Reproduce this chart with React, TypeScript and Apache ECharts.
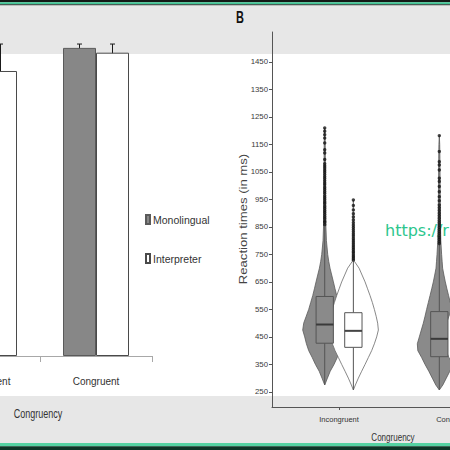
import React, { useEffect, useRef } from 'react';
import * as echarts from 'echarts';

// ---------- Panel A (bar chart, partly cropped) ----------
const barCategories = ['Incongruent', 'Congruent'];
const monolingualMeans = [618, 640];
const interpreterMeans = [592, 630];
const monolingualLow = [586, 617];
const monolingualHigh = [650, 648];
const interpreterLow = [540, 600];
const interpreterHigh = [648, 648];

// ---------- Panel B (violin + box plots) ----------
const congruencyCategories = ['Incongruent', 'Congruent'];
const rtTickValues = [250, 350, 450, 550, 650, 750, 850, 950, 1050, 1150, 1250, 1350, 1450];
const densityRT = [275, 300, 325, 350, 375, 400, 425, 450, 475, 500, 525, 550, 575, 600, 625, 650, 675, 700, 725, 750, 800, 850, 900, 950, 1000, 1050, 1100, 1150, 1200];

const monoIncongruentRange = [275, 1210];
const monoIncongruentDensity = [0.5, 2.7, 5.5, 9.3, 12.5, 16, 18.3, 20, 22, 21, 18.5, 16, 14, 12, 10.3, 8.7, 7, 5.3, 4, 3, 1.7, 1.2, 1, 0.9, 0.8, 0.7, 0.6, 0.5, 0.3];
const interpIncongruentRange = [257, 948];
const interpIncongruentDensity = [2, 5, 8.3, 11.7, 15, 18.3, 21, 23.3, 25, 24.3, 22.8, 21, 19, 16.7, 14.2, 11.7, 8.7, 5.7, 1, 0.7, 0.6, 0.5, 0.4, 0, 0, 0, 0, 0, 0];
const monoCongruentRange = [257, 1182];
const monoCongruentDensity = [3.5, 7, 10.5, 14.3, 17.7, 21.5, 22, 20, 18, 16, 14.3, 12.7, 11, 9.3, 7.6, 6, 4.6, 3.3, 2.8, 2.3, 1.5, 1.2, 1, 0.9, 0.8, 0.7, 0.6, 0.4, 0];
const interpCongruentRange = [252, 905];
const interpCongruentDensity = [3, 7, 11, 15, 19, 22, 24, 24.5, 23.5, 21.5, 19, 16.5, 14, 11.5, 9, 6.5, 4, 1.5, 0.8, 0.6, 0.5, 0.4, 0.3, 0, 0, 0, 0, 0, 0];

// [lower whisker, Q1, median, Q3, upper whisker]
const monoIncongruentBox = [275, 427, 495, 597, 850];
const interpIncongruentBox = [257, 412, 472, 538, 725];
const monoCongruentBox = [257, 378, 443, 542, 785];
const interpCongruentBox = [252, 395, 445, 510, 680];

const monoIncongruentOutliers = [858, 866, 871, 880, 887, 895, 903, 910, 918, 925, 934, 941, 949, 956, 963, 972, 979, 987, 994, 1003, 1010, 1018, 1026, 1033, 1041, 1049, 1056, 1064, 1072, 1080, 1095, 1119, 1131, 1155, 1173, 1185, 1198, 1210];
const interpIncongruentOutliers = [730, 736, 742, 748, 755, 761, 768, 774, 781, 788, 795, 802, 809, 817, 824, 832, 840, 848, 856, 865, 875, 886, 898, 912, 928, 948];
const monoCongruentOutliers = [790, 797, 804, 811, 818, 826, 833, 841, 849, 857, 865, 873, 882, 891, 900, 910, 920, 930, 945, 960, 978, 997, 1015, 1027, 1057, 1075, 1087, 1124, 1182];
const interpCongruentOutliers = [690, 702, 718, 745, 770, 805, 850];

// ---------- styling / layout constants ----------
const SANS = "'Liberation Sans', Arial, sans-serif";
const XOFF = 72; // the figure is a crop: the chart canvas starts 72px left of the page
const CANVAS_W = 580;
const DODGE = 0.125;
const BOX_WIDTH = 0.151;
const DENSITY_TO_X = 1 / 114.6;
const GRAY = '#8a8a8a';

function violinSeries(xPos: number, range: number[], density: number[], fill: string, stroke: string) {
  return {
    type: 'custom',
    xAxisIndex: 1,
    yAxisIndex: 1,
    silent: true,
    data: [[xPos, range[0], range[1]]],
    renderItem: (_p: any, api: any) => {
      const x = api.value(0);
      const lo = api.value(1);
      const hi = api.value(2);
      const unit = api.size([1, 0])[0];
      const prof: number[][] = [[lo, 0]];
      densityRT.forEach((rt, i) => {
        if (rt > lo && rt < hi) prof.push([rt, density[i]]);
      });
      prof.push([hi, 0]);
      const left = prof.map(([rt, w]) => {
        const c = api.coord([x, rt]);
        return [c[0] - w * DENSITY_TO_X * unit, c[1]];
      });
      const right = prof
        .slice()
        .reverse()
        .map(([rt, w]) => {
          const c = api.coord([x, rt]);
          return [c[0] + w * DENSITY_TO_X * unit, c[1]];
        });
      return {
        type: 'polygon',
        shape: { points: left.concat(right) },
        style: { fill, stroke, lineWidth: 0.8 },
      };
    },
  };
}

function boxSeries(xPos: number, stats: number[], fill: string, stroke: string, medianColor: string) {
  return {
    type: 'custom',
    xAxisIndex: 1,
    yAxisIndex: 1,
    silent: true,
    data: [[xPos, ...stats]],
    renderItem: (_p: any, api: any) => {
      const x = api.value(0);
      const unit = api.size([1, 0])[0];
      const half = (BOX_WIDTH / 2) * unit;
      const pMin = api.coord([x, api.value(1)]);
      const pQ1 = api.coord([x, api.value(2)]);
      const pMed = api.coord([x, api.value(3)]);
      const pQ3 = api.coord([x, api.value(4)]);
      const pMax = api.coord([x, api.value(5)]);
      const cx = pMed[0];
      return {
        type: 'group',
        children: [
          { type: 'line', shape: { x1: cx, y1: pMin[1], x2: cx, y2: pQ1[1] }, style: { stroke, lineWidth: 1 } },
          { type: 'line', shape: { x1: cx, y1: pQ3[1], x2: cx, y2: pMax[1] }, style: { stroke, lineWidth: 1 } },
          {
            type: 'rect',
            shape: { x: cx - half, y: pQ3[1], width: half * 2, height: pQ1[1] - pQ3[1] },
            style: { fill, stroke, lineWidth: 1 },
          },
          {
            type: 'line',
            shape: { x1: cx - half, y1: pMed[1], x2: cx + half, y2: pMed[1] },
            style: { stroke: medianColor, lineWidth: 2 },
          },
        ],
      };
    },
  };
}

function outlierSeries(xPos: number, values: number[]) {
  return {
    type: 'scatter',
    xAxisIndex: 1,
    yAxisIndex: 1,
    silent: true,
    symbol: 'circle',
    symbolSize: 3.4,
    itemStyle: { color: '#151515' },
    data: values.map((v) => [xPos, v]),
  };
}

function errorBarSeries(low: number[], high: number[], offsetPx: number) {
  return {
    type: 'custom',
    xAxisIndex: 0,
    yAxisIndex: 0,
    silent: true,
    data: low.map((l, i) => [i, l, high[i]]),
    renderItem: (_p: any, api: any) => {
      const a = api.coord([api.value(0), api.value(1)]);
      const b = api.coord([api.value(0), api.value(2)]);
      const x = a[0] + offsetPx;
      const cap = 2.5;
      const st = { stroke: '#1a1a1a', lineWidth: 1 };
      return {
        type: 'group',
        children: [
          { type: 'line', shape: { x1: x, y1: a[1], x2: x, y2: b[1] }, style: st },
          { type: 'line', shape: { x1: x - cap, y1: a[1], x2: x + cap, y2: a[1] }, style: st },
          { type: 'line', shape: { x1: x - cap, y1: b[1], x2: x + cap, y2: b[1] }, style: st },
        ],
      };
    },
  };
}

const BAR_W = 33;

function band(y: number, h: number, fill: string) {
  return { type: 'rect', z: -100, shape: { x: 0, y, width: CANVAS_W, height: h }, style: { fill } };
}

function buildOption() {
  return {
    animation: false,
    backgroundColor: '#ffffff',
    grid: [
      { left: 0, top: 19, width: 224, height: 337 },
      { left: 272 + XOFF, top: 32, width: 229.2, height: 375 },
    ],
    xAxis: [
      {
        type: 'category',
        gridIndex: 0,
        data: barCategories,
        axisLine: { lineStyle: { color: '#a8a8a8', width: 1.2 } },
        axisTick: { show: true, length: 6, lineStyle: { color: '#a8a8a8' } },
        axisLabel: { fontSize: 10, color: '#333', fontFamily: SANS, margin: 20 },
      },
      {
        type: 'value',
        gridIndex: 1,
        min: 0.415,
        max: 2.415,
        splitLine: { show: false },
        axisLine: { show: true, lineStyle: { color: '#555', width: 1 } },
        axisTick: { show: true, length: 3, customValues: [1, 2], lineStyle: { color: '#555' } },
        axisLabel: {
          customValues: [1, 2],
          formatter: (v: number) => congruencyCategories[Math.round(v) - 1],
          fontSize: 7.5,
          color: '#333',
          fontFamily: SANS,
          margin: 8,
        },
      },
    ],
    yAxis: [
      { type: 'value', gridIndex: 0, min: 0, max: 700, show: false },
      {
        type: 'value',
        gridIndex: 1,
        min: 195,
        max: 1559,
        splitLine: { show: false },
        axisLine: { show: true, lineStyle: { color: '#555', width: 1 } },
        axisTick: { show: true, length: 3, customValues: rtTickValues, lineStyle: { color: '#555' } },
        axisLabel: {
          customValues: rtTickValues,
          formatter: (v: number) => String(v),
          fontSize: 7.8,
          color: '#3a3a3a',
          fontFamily: SANS,
          margin: 4,
        },
      },
    ],
    legend: {
      data: ['Monolingual', 'Interpreter'],
      orient: 'vertical',
      left: 140 + XOFF,
      top: 209,
      itemWidth: 4,
      itemHeight: 9,
      itemGap: 28,
      icon: 'rect',
      selectedMode: false,
      textStyle: { fontSize: 10.5, color: '#333', fontFamily: SANS, padding: [0, 0, 0, -2] },
    },
    graphic: [
      band(0, 2.2, '#121815'),
      band(2.2, 2, '#3fc393'),
      band(4.2, 1.3, '#1d2b25'),
      band(5.5, 48.5, '#e7e7e7'),
      band(396, 47, '#e7e7e7'),
      band(443, 3.3, '#55d2a2'),
      band(446.3, 3.7, '#0d3526'),
      {
        type: 'text',
        x: 240 + XOFF,
        y: 17,
        scaleY: 1.5,
        style: { text: 'B', fontSize: 11, fontWeight: 'bold', fontFamily: SANS, fill: '#111', align: 'center', verticalAlign: 'middle' },
      },
      {
        type: 'text',
        x: 38 + XOFF,
        y: 413,
        scaleX: 0.75,
        style: { text: 'Congruency', fontSize: 12, fontFamily: SANS, fill: '#333', align: 'center', verticalAlign: 'middle' },
      },
      {
        type: 'text',
        x: 393 + XOFF,
        y: 437,
        scaleX: 0.73,
        style: { text: 'Congruency', fontSize: 11, fontFamily: SANS, fill: '#333', align: 'center', verticalAlign: 'middle' },
      },
      {
        type: 'text',
        x: 243 + XOFF,
        y: 219,
        rotation: Math.PI / 2,
        scaleX: 1.25,
        style: { text: 'Reaction times (in ms)', fontSize: 10.5, fontFamily: SANS, fill: '#444', align: 'center', verticalAlign: 'middle' },
      },
      {
        type: 'text',
        x: 385 + XOFF,
        y: 230,
        style: { text: 'https://r', fontSize: 16, fontFamily: "'DejaVu Sans', sans-serif", fill: '#2cc68d', align: 'left', verticalAlign: 'middle' },
      },
    ],
    series: [
      {
        name: 'Monolingual',
        type: 'bar',
        xAxisIndex: 0,
        yAxisIndex: 0,
        barWidth: BAR_W,
        barGap: '0%',
        data: monolingualMeans,
        itemStyle: { color: '#878787', borderColor: '#5a5a5a', borderWidth: 1 },
      },
      {
        name: 'Interpreter',
        type: 'bar',
        xAxisIndex: 0,
        yAxisIndex: 0,
        barWidth: BAR_W,
        barGap: '0%',
        data: interpreterMeans,
        itemStyle: { color: '#ffffff', borderColor: '#4a4a4a', borderWidth: 1 },
      },
      errorBarSeries(monolingualLow, monolingualHigh, -BAR_W / 2),
      errorBarSeries(interpreterLow, interpreterHigh, BAR_W / 2),
      violinSeries(1 - DODGE, monoIncongruentRange, monoIncongruentDensity, GRAY, '#5a5a5a'),
      violinSeries(1 + DODGE, interpIncongruentRange, interpIncongruentDensity, '#ffffff', '#6a6a6a'),
      violinSeries(2 - DODGE, monoCongruentRange, monoCongruentDensity, GRAY, '#5a5a5a'),
      violinSeries(2 + DODGE, interpCongruentRange, interpCongruentDensity, '#ffffff', '#6a6a6a'),
      boxSeries(1 - DODGE, monoIncongruentBox, GRAY, '#555', '#3a3a3a'),
      boxSeries(1 + DODGE, interpIncongruentBox, '#ffffff', '#555', '#444'),
      boxSeries(2 - DODGE, monoCongruentBox, GRAY, '#555', '#3a3a3a'),
      boxSeries(2 + DODGE, interpCongruentBox, '#ffffff', '#555', '#444'),
      outlierSeries(1 - DODGE, monoIncongruentOutliers),
      outlierSeries(1 + DODGE, interpIncongruentOutliers),
      outlierSeries(2 - DODGE, monoCongruentOutliers),
      outlierSeries(2 + DODGE, interpCongruentOutliers),
    ],
  };
}

export default function App() {
  const ref = useRef<HTMLDivElement>(null);
  useEffect(() => {
    document.body.style.margin = '0';
    const chart = echarts.init(ref.current as HTMLDivElement, null, { renderer: 'svg' });
    chart.setOption(buildOption() as any);
    return () => chart.dispose();
  }, []);
  return (
    <div style={{ width: 450, height: 450, overflow: 'hidden', position: 'relative' }}>
      <div ref={ref} style={{ position: 'absolute', left: -XOFF, top: 0, width: CANVAS_W, height: 450 }} />
    </div>
  );
}
